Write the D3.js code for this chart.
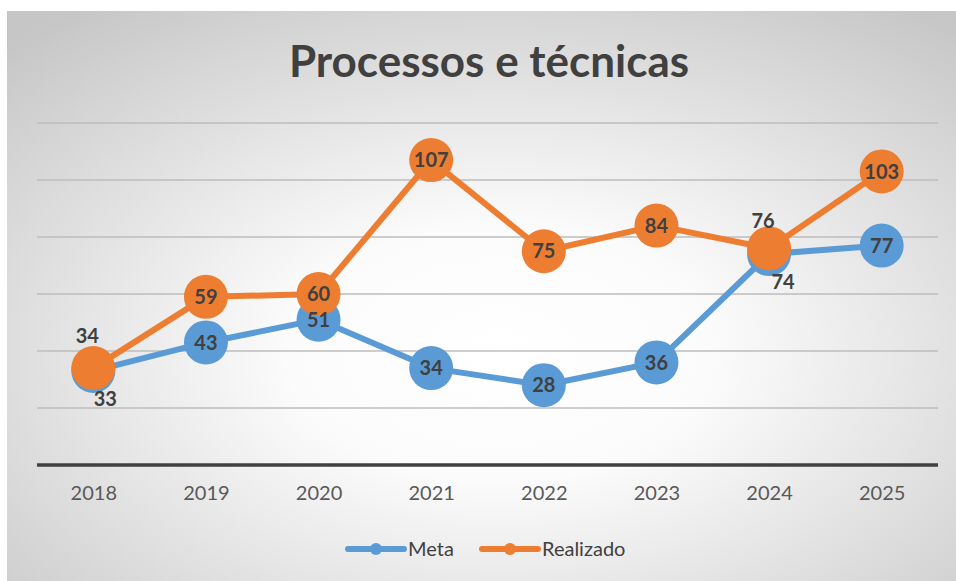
<!DOCTYPE html>
<html>
<head>
<meta charset="utf-8">
<script src="https://cdn.jsdelivr.net/npm/d3@7"></script>
<style>
  html, body { margin: 0; padding: 0; background: #fff; }
  svg { display: block; }
</style>
</head>
<body>
<div id="chart"></div>
<script>
/* =========================
   DADOS
   ========================= */

const years = ["2018", "2019", "2020", "2021", "2022", "2023", "2024", "2025"];
const meta = [33, 43, 51, 34, 28, 36, 74, 77];
const realizado = [34, 59, 60, 107, 75, 84, 76, 103];
const yTicks = [0, 20, 40, 60, 80, 100, 120];

/* =========================
   CONFIG
   ========================= */

const WIDTH = 956;
const HEIGHT = 581;
const BLUE = "#5b9bd5";
const ORANGE = "#ed7d31";
const TEXT = "#404040";
const FONT = "Lato, 'Open Sans', sans-serif";

const x = d3.scalePoint()
  .domain(years)
  .range([37, 938])
  .padding(0.5);

const y = d3.scaleLinear()
  .domain([0, 120])
  .range([465, 123]);

const svg = d3.select("#chart")
  .append("svg")
  .attr("width", WIDTH)
  .attr("height", HEIGHT);

// Fundo com gradiente radial
const defs = svg.append("defs");
const grad = defs.append("radialGradient")
  .attr("id", "bg")
  .attr("cx", "52%").attr("cy", "60%")
  .attr("r", "75%");
grad.append("stop").attr("offset", "0%").attr("stop-color", "#ffffff");
grad.append("stop").attr("offset", "30%").attr("stop-color", "#fbfbfb");
grad.append("stop").attr("offset", "100%").attr("stop-color", "#c6c6c6");

svg.append("rect")
  .attr("x", 7).attr("y", 11)
  .attr("width", WIDTH - 7).attr("height", HEIGHT - 11)
  .attr("fill", "url(#bg)");

// Título
svg.append("text")
  .attr("x", 489).attr("y", 77)
  .attr("text-anchor", "middle")
  .attr("font-family", FONT)
  .attr("font-weight", "bold")
  .attr("font-size", 44)
  .attr("fill", TEXT)
  .text("Processos e técnicas");

// Grade
svg.append("g")
  .selectAll("line")
  .data(yTicks.filter(d => d > 0))
  .enter()
  .append("line")
  .attr("x1", 37).attr("x2", 938)
  .attr("y1", d => y(d)).attr("y2", d => y(d))
  .attr("stroke", "#bdbdbd")
  .attr("stroke-width", 1.5);

// Eixo X
const xAxis = svg.append("g")
  .attr("transform", `translate(0,${y(0)})`)
  .call(d3.axisBottom(x).tickSize(0).tickPadding(21));
xAxis.select(".domain")
  .attr("d", "M37,0H938")
  .attr("stroke", "#404040")
  .attr("stroke-width", 3.5);
xAxis.selectAll("text")
  .attr("font-family", FONT)
  .attr("font-size", 20)
  .attr("fill", "#595959");

/* =========================
   SÉRIES
   ========================= */

const line = d3.line()
  .x((d, i) => x(years[i]))
  .y(d => y(d));

function drawSeries(values, color) {
  const g = svg.append("g");
  g.append("path")
    .datum(values)
    .attr("d", line)
    .attr("fill", "none")
    .attr("stroke", color)
    .attr("stroke-width", 6)
    .attr("stroke-linejoin", "round");
  g.selectAll("circle")
    .data(values)
    .enter()
    .append("circle")
    .attr("cx", (d, i) => x(years[i]))
    .attr("cy", d => y(d))
    .attr("r", 22)
    .attr("fill", color);
  return g;
}

drawSeries(meta, BLUE);
drawSeries(realizado, ORANGE);

// Rótulos de dados (alguns deslocados onde as séries se sobrepõem)
const labelOffsets = {
  meta: { 0: [12, 28], 6: [14, 28] },
  realizado: { 0: [-6, -32], 6: [-6, -28] }
};

function drawLabels(values, key) {
  svg.append("g")
    .selectAll("text")
    .data(values)
    .enter()
    .append("text")
    .attr("x", (d, i) => x(years[i]) + (labelOffsets[key][i] ? labelOffsets[key][i][0] : 0))
    .attr("y", (d, i) => y(d) + (labelOffsets[key][i] ? labelOffsets[key][i][1] : 0))
    .attr("dy", "0.36em")
    .attr("text-anchor", "middle")
    .attr("font-family", FONT)
    .attr("font-weight", "bold")
    .attr("font-size", 20)
    .attr("fill", TEXT)
    .text(d => d);
}

drawLabels(meta, "meta");
drawLabels(realizado, "realizado");

/* =========================
   LEGENDA
   ========================= */

const legendItems = [
  { name: "Meta", color: BLUE, x: 348 },
  { name: "Realizado", color: ORANGE, x: 482 }
];

const legend = svg.append("g").selectAll("g")
  .data(legendItems)
  .enter()
  .append("g")
  .attr("transform", d => `translate(${d.x},549)`);

legend.append("line")
  .attr("x1", 0).attr("x2", 56)
  .attr("stroke", d => d.color)
  .attr("stroke-width", 6)
  .attr("stroke-linecap", "round");
legend.append("circle")
  .attr("cx", 28).attr("r", 6)
  .attr("fill", d => d.color);
legend.append("text")
  .attr("x", 60)
  .attr("dy", "0.36em")
  .attr("font-family", FONT)
  .attr("font-size", 20)
  .attr("fill", TEXT)
  .text(d => d.name);
</script>
</body>
</html>
